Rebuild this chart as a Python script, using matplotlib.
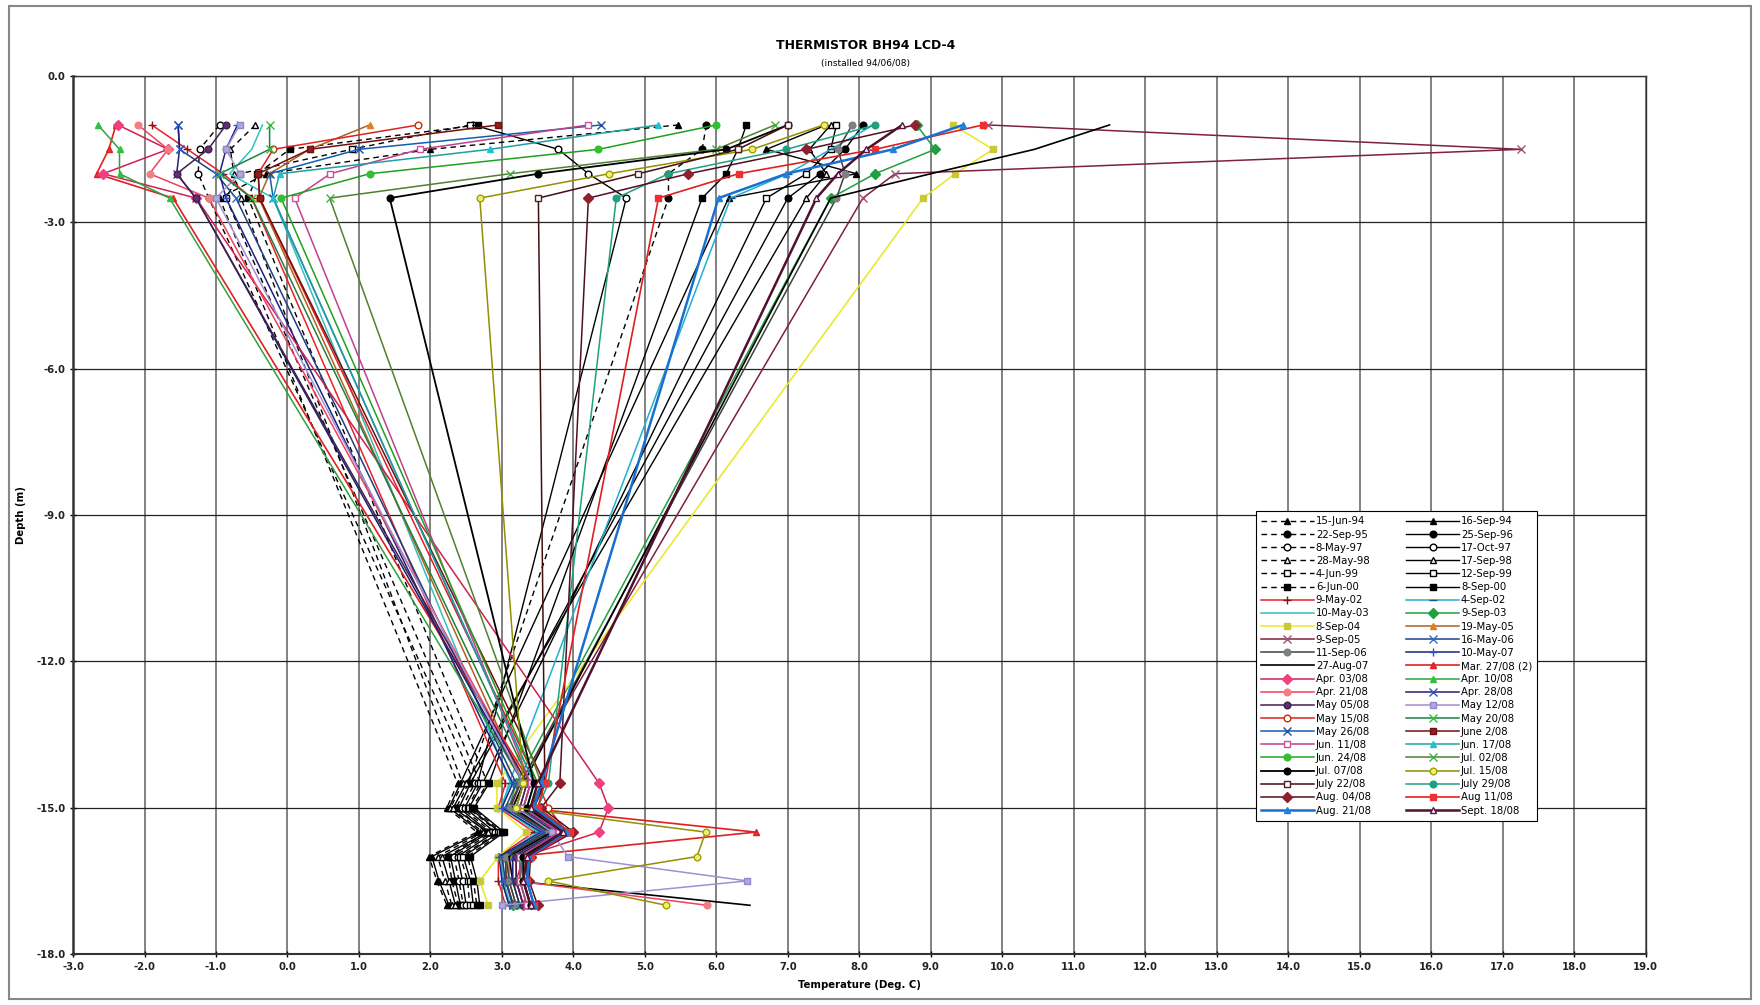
import matplotlib
matplotlib.use("Agg")
import matplotlib.pyplot as plt
from matplotlib.patches import Rectangle

# thermistor depths (m)
DEPTH = [-1.0, -1.5, -2.0, -2.5, -14.5, -15.0, -15.5, -16.0, -16.5, -17.0]

# temperatures (deg C) read at each depth above
t_15jun94 = [5.47, 2.00, -0.30, -0.95, 2.38, 2.23, 2.65, 1.98, 2.09, 2.23]
t_16sep94 = [7.54, 6.70, 7.96, 6.17, 2.42, 2.26, 2.70, 2.02, 2.12, 2.26]
t_22sep95 = [5.86, 5.80, 5.33, 5.33, 2.53, 2.36, 2.78, 2.25, 2.30, 2.39]
t_25sep96 = [8.05, 7.80, 7.45, 7.00, 2.56, 2.40, 2.82, 2.28, 2.35, 2.42]
t_08may97 = [-0.95, -1.23, -1.25, -1.10, 2.62, 2.44, 2.86, 2.33, 2.40, 2.46]
t_17oct97 = [2.60, 3.79, 4.21, 4.74, 2.66, 2.48, 2.90, 2.38, 2.45, 2.50]
t_28may98 = [-0.45, -0.80, -0.75, -0.65, 2.45, 2.28, 2.74, 2.10, 2.20, 2.30]
t_17sep98 = [7.60, 7.30, 7.54, 7.26, 2.50, 2.32, 2.80, 2.16, 2.26, 2.35]
t_04jun99 = [2.55, 0.90, -0.67, -0.86, 2.70, 2.52, 2.95, 2.42, 2.52, 2.55]
t_12sep99 = [7.68, 7.60, 7.26, 6.70, 2.73, 2.54, 2.97, 2.46, 2.56, 2.60]
t_06jun00 = [2.66, 0.03, -0.42, -0.55, 2.80, 2.58, 3.00, 2.52, 2.60, 2.65]
t_08sep00 = [6.42, 6.30, 6.14, 5.80, 2.82, 2.61, 3.03, 2.56, 2.65, 2.69]
t_09may02 = [-1.90, -1.40, -0.90, -0.50, 3.05, 2.95, 3.45, 2.95, 2.95, 3.05]
t_04sep02 = [8.20, 7.60, 7.00, 6.20, 3.10, 3.00, 3.50, 3.00, 3.00, 3.10]
t_10may03 = [-0.35, -0.50, -0.81, -0.20, 3.12, 2.98, 3.52, 3.02, 3.02, 3.12]
t_09sep03 = [8.80, 9.06, 8.22, 7.60, 3.20, 3.10, 3.60, 3.05, 3.06, 3.16]
t_08sep04 = [9.31, 9.87, 9.34, 8.89, 2.93, 2.93, 3.34, 2.95, 2.69, 2.81]
t_19may05 = [1.15, 0.31, -0.25, -0.40, 3.30, 3.15, 3.70, 3.10, 3.10, 3.20]
t_09sep05 = [9.80, 17.25, 8.50, 8.05, 3.25, 3.10, 3.65, 3.05, 3.06, 3.16]
t_16may06 = [-1.53, -1.51, -1.00, -0.72, 3.20, 3.05, 3.60, 3.00, 3.05, 3.15]
t_11sep06 = [7.90, 7.70, 7.80, 7.68, 3.26, 3.12, 3.66, 3.06, 3.10, 3.20]
t_10may07 = [-0.70, -0.86, -0.95, -0.86, 3.15, 3.00, 3.55, 2.96, 3.00, 3.10]
t_27aug07 = [11.50, 10.45, 9.00, 7.60, 3.30, 3.15, 3.70, 3.10, 3.15, 6.47]
t_27mar08 = [-2.40, -2.50, -2.67, -1.60, 3.40, 3.30, 6.55, 3.20, 3.20, 3.30]
t_03apr08 = [-2.37, -1.67, -2.58, -1.28, 4.36, 4.49, 4.36, 3.30, 3.20, 3.30]
t_10apr08 = [-2.65, -2.35, -2.35, -1.65, 3.30, 3.20, 3.75, 3.15, 3.15, 3.25]
t_21apr08 = [-2.09, -1.67, -1.93, -1.10, 3.35, 3.25, 3.80, 3.20, 3.20, 5.87]
t_28apr08 = [-1.53, -1.51, -1.55, -1.28, 3.30, 3.20, 3.75, 3.15, 3.15, 3.25]
t_05may08 = [-0.86, -1.11, -1.55, -1.28, 3.35, 3.25, 3.80, 3.20, 3.20, 3.30]
t_12may08 = [-0.67, -0.86, -0.67, -1.00, 3.30, 3.20, 3.70, 3.92, 6.43, 3.00]
t_15may08 = [1.83, -0.20, -0.41, -0.39, 3.50, 3.65, 3.90, 3.30, 3.25, 3.35]
t_20may08 = [-0.25, -0.25, -0.95, -0.50, 3.40, 3.30, 3.85, 3.25, 3.25, 3.35]
t_26may08 = [4.39, 1.00, -0.25, -0.20, 3.45, 3.35, 3.85, 3.30, 3.30, 3.40]
t_02jun08 = [2.95, 0.31, -0.41, -0.39, 3.60, 3.40, 3.95, 3.35, 3.35, 3.45]
t_11jun08 = [4.21, 1.85, 0.60, 0.10, 3.40, 3.30, 3.80, 3.25, 3.25, 3.35]
t_17jun08 = [5.19, 2.83, -0.11, -0.20, 3.45, 3.35, 3.85, 3.30, 3.30, 3.40]
t_24jun08 = [6.00, 4.35, 1.15, -0.09, 3.50, 3.40, 3.90, 3.30, 3.30, 3.40]
t_02jul08 = [6.82, 6.00, 3.11, 0.59, 3.55, 3.40, 3.90, 3.35, 3.30, 3.40]
t_07jul08 = [7.00, 6.14, 3.51, 1.43, 3.45, 3.35, 3.85, 3.30, 3.30, 3.40]
t_15jul08 = [7.50, 6.50, 4.50, 2.69, 3.30, 3.20, 5.85, 5.73, 3.64, 5.30]
t_22jul08 = [7.00, 6.30, 4.91, 3.51, 3.60, 3.45, 3.95, 3.35, 3.35, 3.45]
t_29jul08 = [8.22, 6.98, 5.33, 4.60, 3.65, 3.50, 3.95, 3.40, 3.35, 3.45]
t_04aug08 = [8.78, 7.26, 5.61, 4.21, 3.81, 3.55, 4.00, 3.40, 3.38, 3.50]
t_11aug08 = [9.73, 8.22, 6.31, 5.19, 3.60, 3.50, 3.95, 3.40, 3.35, 3.45]
t_21aug08 = [9.45, 8.47, 6.98, 6.03, 3.55, 3.45, 3.90, 3.38, 3.35, 3.45]
t_18sep08 = [8.60, 8.10, 7.70, 7.40, 3.50, 3.40, 3.85, 3.35, 3.30, 3.40]

LABELS = ["15-Jun-94", "16-Sep-94", "22-Sep-95", "25-Sep-96", "8-May-97", "17-Oct-97",
          "28-May-98", "17-Sep-98", "4-Jun-99", "12-Sep-99", "6-Jun-00", "8-Sep-00",
          "9-May-02", "4-Sep-02", "10-May-03", "9-Sep-03", "8-Sep-04", "19-May-05",
          "9-Sep-05", "16-May-06", "11-Sep-06", "10-May-07", "27-Aug-07", "Mar. 27/08 (2)",
          "Apr. 03/08", "Apr. 10/08", "Apr. 21/08", "Apr. 28/08", "May 05/08", "May 12/08",
          "May 15/08", "May 20/08", "May 26/08", "June 2/08", "Jun. 11/08", "Jun. 17/08",
          "Jun. 24/08", "Jul. 02/08", "Jul. 07/08", "Jul. 15/08", "July 22/08", "July 29/08",
          "Aug. 04/08", "Aug 11/08", "Aug. 21/08", "Sept. 18/08"]

TEMPS = [t_15jun94, t_16sep94, t_22sep95, t_25sep96, t_08may97, t_17oct97,
         t_28may98, t_17sep98, t_04jun99, t_12sep99, t_06jun00, t_08sep00,
         t_09may02, t_04sep02, t_10may03, t_09sep03, t_08sep04, t_19may05,
         t_09sep05, t_16may06, t_11sep06, t_10may07, t_27aug07, t_27mar08,
         t_03apr08, t_10apr08, t_21apr08, t_28apr08, t_05may08, t_12may08,
         t_15may08, t_20may08, t_26may08, t_02jun08, t_11jun08, t_17jun08,
         t_24jun08, t_02jul08, t_07jul08, t_15jul08, t_22jul08, t_29jul08,
         t_04aug08, t_11aug08, t_21aug08, t_18sep08]

DASH = (0, (4, 3))
# (line colour, linestyle, marker, face, edge, linewidth)
STYLES = [
    ("k", DASH, "^", "k", "k", 1.0), ("k", "-", "^", "k", "k", 1.0),
    ("k", DASH, "o", "k", "k", 1.0), ("k", "-", "o", "k", "k", 1.0),
    ("k", DASH, "o", "w", "k", 1.0), ("k", "-", "o", "w", "k", 1.0),
    ("k", DASH, "^", "w", "k", 1.0), ("k", "-", "^", "w", "k", 1.0),
    ("k", DASH, "s", "w", "k", 1.0), ("k", "-", "s", "w", "k", 1.0),
    ("k", DASH, "s", "k", "k", 1.0), ("k", "-", "s", "k", "k", 1.0),
    ("#e8202a", "-", "+", "#901010", "#901010", 1.1),
    ("#20b0d0", "-", "_", "#205080", "#205080", 1.1),
    ("#30c0c0", "-", "None", "none", "none", 1.1),
    ("#20a040", "-", "D", "#20a040", "#20a040", 1.1),
    ("#e8e820", "-", "s", "#c8c838", "#c8c838", 1.1),
    ("#b06020", "-", "^", "#e08020", "#e08020", 1.1),
    ("#802040", "-", "x", "#a05070", "#a05070", 1.1),
    ("#204080", "-", "x", "#3070c0", "#3070c0", 1.1),
    ("#404040", "-", "o", "#808080", "#808080", 1.1),
    ("#1a237e", "-", "+", "#3050c0", "#3050c0", 1.1),
    ("#000000", "-", "None", "none", "none", 1.2),
    ("#e02020", "-", "^", "#f03030", "#e02020", 1.2),
    ("#d02050", "-", "D", "#f04080", "#f04080", 1.1),
    ("#30a040", "-", "^", "#30c040", "#30c040", 1.1),
    ("#f04060", "-", "o", "#f08080", "#f08080", 1.1),
    ("#202070", "-", "x", "#3050c0", "#3050c0", 1.1),
    ("#402050", "-", "o", "#603070", "#402050", 1.1),
    ("#a090d0", "-", "s", "#b0a8e0", "#9088c8", 1.1),
    ("#e02020", "-", "o", "w", "#c03000", 1.1),
    ("#208040", "-", "x", "#30c040", "#30c040", 1.1),
    ("#1060b0", "-", "x", "#2050a0", "#2050a0", 1.1),
    ("#701010", "-", "s", "#902020", "#701010", 1.1),
    ("#c04090", "-", "s", "w", "#d050a0", 1.1),
    ("#20a0a0", "-", "^", "#20c0d0", "#20c0d0", 1.1),
    ("#20a020", "-", "o", "#30c030", "#30c030", 1.1),
    ("#508030", "-", "x", "#40b040", "#40b040", 1.1),
    ("#000000", "-", "o", "#000000", "#000000", 1.3),
    ("#909000", "-", "o", "#f0f070", "#a0a000", 1.1),
    ("#401010", "-", "s", "w", "#502020", 1.1),
    ("#20a080", "-", "o", "#20a080", "#20a080", 1.1),
    ("#501020", "-", "D", "#902030", "#902030", 1.1),
    ("#e02020", "-", "s", "#f03030", "#f03030", 1.2),
    ("#1870d0", "-", "^", "#2080e0", "#2080e0", 1.8),
    ("#501030", "-", "^", "w", "#601040", 1.8),
]

fig = plt.figure(figsize=(17.6, 10.05), dpi=100)
ax = fig.add_axes([0.0415, 0.0507, 0.8935, 0.8735])

handles = []
for lab, temps, st in zip(LABELS, TEMPS, STYLES):
    col, ls, mk, mfc, mec, lw = st
    ms = 5.5 if mk in ("x", "+", "_") else 4.8
    h, = ax.plot(temps, DEPTH, color=col, linestyle=ls, linewidth=lw, marker=mk,
                 markerfacecolor=mfc, markeredgecolor=mec, markersize=ms,
                 markeredgewidth=1.0, label=lab)
    handles.append(h)

ax.set_xlim(-3, 19)
ax.set_ylim(-18, 0)
ax.set_xticks(range(-3, 20))
ax.set_yticks(range(-18, 1, 3))
ax.xaxis.set_major_formatter(matplotlib.ticker.FormatStrFormatter("%.1f"))
ax.yaxis.set_major_formatter(matplotlib.ticker.FormatStrFormatter("%.1f"))
ax.tick_params(labelsize=7.3, width=1, length=4, direction="inout")
for t in ax.get_xticklabels() + ax.get_yticklabels():
    t.set_fontweight("bold")
    t.set_color("#222222")
ax.xaxis.grid(True, color="#777777", linewidth=1.3)
ax.yaxis.grid(True, color="#222222", linewidth=0.9)
ax.set_axisbelow(True)
for sp in ax.spines.values():
    sp.set_color("#333333")
    sp.set_linewidth(1.0)
ax.spines["left"].set_linewidth(1.8)
ax.spines["bottom"].set_linewidth(1.5)

ax.set_xlabel("Temperature (Deg. C)", fontsize=7.3, fontweight="bold")
ax.xaxis.set_label_coords(0.5, -0.03)
ax.set_ylabel("Depth (m)", fontsize=7.3, fontweight="bold")
ax.yaxis.set_label_coords(-0.03, 0.5)

fig.text(0.492, 0.955, "THERMISTOR BH94 LCD-4", ha="center", va="center",
         fontsize=9, fontweight="bold")
fig.text(0.492, 0.937, "(installed 94/06/08)", ha="center", va="center",
         fontsize=6.5)

# legend is filled row by row in the original, matplotlib fills columns
order = handles[0::2] + handles[1::2]
leg = ax.legend(order, [h.get_label() for h in order], ncol=2, fontsize=7.3,
                loc="upper left", bbox_to_anchor=(0.749, 0.51),
                frameon=True, fancybox=False, edgecolor="k", framealpha=1,
                handlelength=5.2, labelspacing=0.31, columnspacing=3.5,
                handletextpad=0.2, borderpad=0.5)
leg.get_frame().set_linewidth(0.8)

fig.patches.append(Rectangle((0.005, 0.006), 0.99, 0.988, transform=fig.transFigure,
                             fill=False, edgecolor="#888888", linewidth=1.5))

fig.savefig("out.png", dpi=100)
